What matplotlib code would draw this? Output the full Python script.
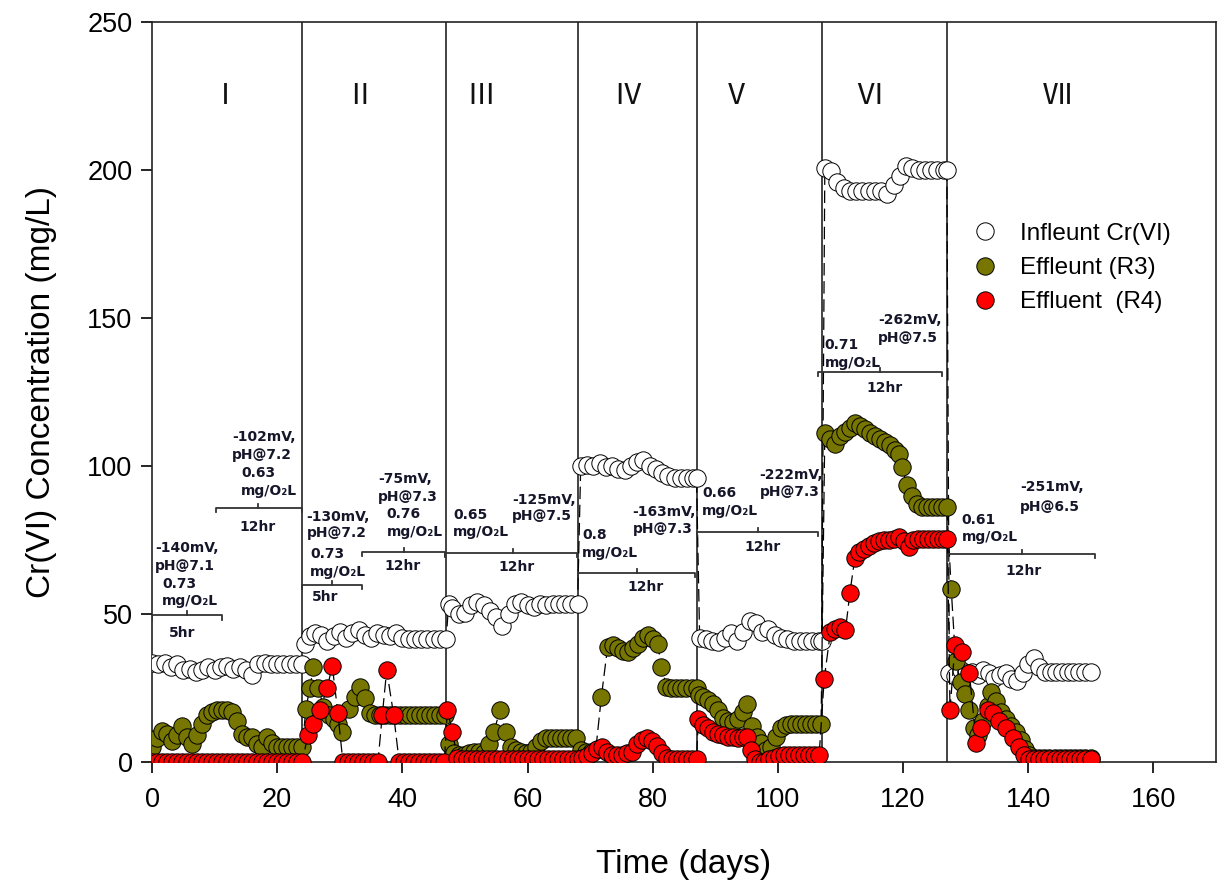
import matplotlib
matplotlib.use("Agg")
import matplotlib.pyplot as plt
from matplotlib.lines import Line2D

# ---------------- data ----------------
influent_days = [0, 1, 2, 3, 4, 5, 6, 7, 8, 9, 10, 11, 12, 13, 14, 15, 16, 17, 18, 19, 20, 21, 22, 23, 24,
                 24.5, 25.3, 26, 27, 28, 29, 30, 31, 32, 33, 34, 35, 36, 37, 38, 39, 40, 41, 42, 43, 44, 45, 46, 47,
                 47.4, 48, 49, 50, 51, 52, 53, 54, 55, 56, 57, 58, 59, 60, 61, 62, 63, 64, 65, 66, 67, 68,
                 68.5, 69.5, 70.5, 71.5, 72.5, 73.5, 74.5, 75.5, 76.5, 77.5, 78.5, 79.5, 80.5, 81.5, 82.5, 83.5,
                 84.5, 85.5, 86.5, 87,
                 87.5, 88.5, 89.5, 90.5, 91.5, 92.5, 93.5, 94.5, 95.5, 96.5, 97.5, 98.5, 99.5, 100.5, 101.5,
                 102.5, 103.5, 104.5, 105.5, 106.5, 107,
                 107.5, 108.5, 109.5, 110.5, 111.5, 112.5, 113.5, 114.5, 115.5, 116.5, 117.5, 118.5, 119.5,
                 120.5, 121.5, 122.5, 123.5, 124.5, 125.5, 126.5, 127,
                 127.4, 128.3, 129.2, 130.1, 131, 131.9, 132.8, 133.7, 134.6, 135.5, 136.4, 137.3, 138.2, 139.1,
                 140, 140.9, 141.8, 142.7, 143.6, 144.5, 145.4, 146.3, 147.2, 148.1, 149, 150]
influent_vals = [33.5, 33, 33.5, 32, 33, 31, 31.5, 30.5, 31, 32, 31, 32, 32.5, 31.5, 32, 31, 29.5, 33, 33.5,
                 33, 33, 33, 33, 33, 33,
                 40, 42.5, 43.5, 43, 41, 42.5, 44, 42, 43.5, 44.5, 43, 42, 43.5, 43, 42.5, 43.5, 42, 41.5, 41.5,
                 41.5, 41.5, 41.5, 41.5, 41.5,
                 53.5, 52, 50, 50.5, 53, 54, 53, 51, 49, 46, 50, 53.5, 54, 53, 52.5, 53.5, 53, 53.5, 53.5, 53.5,
                 53.5, 53.5,
                 100, 100.5, 100, 101, 99.5, 100, 99, 98.5, 100, 101.5, 102, 100, 99, 97.5, 96.5, 96, 96, 96,
                 96, 96,
                 42, 41.5, 41, 40.5, 42, 43.5, 41, 44, 47.5, 47, 44, 45, 43, 42, 41.5, 41, 41, 41, 41, 41, 41,
                 200.5, 199.5, 196, 194, 193, 193, 193, 193, 193, 193, 192, 195, 198, 201.5, 200.5, 200, 200,
                 200, 200, 200, 200,
                 30, 29, 31, 30, 30.5, 29.5, 31, 30, 28.5, 29.5, 30, 28, 27.5, 30, 33, 35, 32, 30.5, 30.5,
                 30.5, 30.5, 30.5, 30.5, 30.5, 30.5, 30.5]

r3_days = [0, 0.8, 1.6, 2.4, 3.2, 4, 4.8, 5.6, 6.4, 7.2, 8, 8.8, 9.6, 10.4, 11.2, 12, 12.8, 13.6, 14.4, 15.2,
           16, 16.8, 17.6, 18.4, 19.2, 20, 20.8, 21.6, 22.4, 23.2, 24,
           24.6, 25.2, 25.8, 26.6, 27.4, 28.2, 29, 29.7, 30.4, 31.4, 32.4, 33.2, 34, 34.8, 35.6, 36.4, 37.2,
           38, 38.8, 39.6, 40.4, 41.2, 42, 42.8, 43.6, 44.4, 45.2, 46, 46.8,
           47.4, 48.2, 49, 49.8, 50.6, 51.4, 52.2, 53, 53.8, 54.6, 55.6, 56.5, 57.3, 58.1, 58.9, 59.7, 60.5,
           61.3, 62.1, 62.9, 63.7, 64.5, 65.3, 66.1, 66.9, 67.7,
           68.5, 69.3, 70.1, 70.9, 71.8, 72.8, 73.6, 74.4, 75.2, 76, 76.8, 77.6, 78.4, 79.2, 80, 80.8, 81.4,
           82.2, 83, 83.8, 84.6, 85.4, 86.2, 87,
           87.4, 88.1, 88.9, 89.7, 90.5, 91.3, 92.1, 92.9, 93.7, 94.5, 95, 95.8, 96.6, 97.3, 98.1, 98.9, 99.7,
           100.5, 101.3, 102.1, 102.9, 103.7, 104.5, 105.3, 106.1, 106.9,
           107.5, 108.3, 109.1, 109.9, 110.7, 111.5, 112.3, 113.1, 113.9, 114.7, 115.5, 116.3, 117.1, 117.9,
           118.7, 119.3, 119.9, 120.6, 121.4, 122.2, 123, 123.8, 124.6, 125.4, 126.2, 127,
           127.7, 128.4, 129.2, 129.9, 130.6, 131.3, 132, 132.7, 133.5, 134.1, 134.9, 135.7, 136.5, 137.3,
           138.1, 138.8, 139.5, 140.2, 141, 141.8, 142.6, 143.4, 144.2, 145, 145.8, 146.6, 147.4, 148.2,
           149, 150]
r3_vals = [5, 8, 10.5, 9.5, 7, 9, 12, 8.5, 6, 9, 13, 16, 17, 17.5, 17.5, 17.5, 17, 14, 9.5, 8.5, 8.5, 6, 5,
           8.5, 6.5, 5, 5, 5, 5, 5, 5,
           18, 25, 32, 25, 18.5, 16, 14.5, 13, 10, 18, 22, 25.5, 21.5, 16.5, 16, 16, 16, 16, 16, 16, 16, 16,
           16, 16, 16, 16, 16, 16, 16,
           6, 3, 2.5, 2.5, 3, 3.5, 3.5, 3, 6, 10, 17.5, 10, 5, 4, 3.5, 3, 3.5, 5, 7, 8, 8, 8, 8, 8, 8, 8,
           4, 3.5, 3.5, 4, 22, 39, 39.5, 38.5, 37.5, 37, 38.5, 40, 42, 43, 41.5, 40, 32, 25.5, 25, 25, 25,
           25, 25, 25,
           22.5, 22, 21, 19.5, 17.5, 15, 14, 13.5, 14.5, 17, 19.5, 12, 8.5, 6.5, 4, 5, 8.5, 11.5, 12.5, 13,
           13, 13, 13, 13, 13, 13,
           111, 109, 107.5, 110, 111.5, 113, 114.5, 113.5, 112.5, 111, 110, 109, 108, 107, 105.5, 104, 99.5,
           93.5, 90, 87, 86, 86, 86, 86, 86, 86,
           58.5, 34, 27, 23, 17.5, 11.5, 9, 14, 19, 23.5, 20.5, 17, 14.5, 12, 10, 7.5, 4.5, 2.5, 1.5, 1.5,
           1.5, 1.5, 1.5, 1.5, 1.5, 1.5, 1.5, 1.5, 1.5, 1.5]

r4_days = [0, 0.8, 1.6, 2.4, 3.2, 4, 4.8, 5.6, 6.4, 7.2, 8, 8.8, 9.6, 10.4, 11.2, 12, 12.8, 13.6, 14.4, 15.2,
           16, 16.8, 17.6, 18.4, 19.2, 20, 20.8, 21.6, 22.4, 23.2, 24,
           24.9, 25.7, 26.8, 28, 28.8, 29.7, 30.5, 31.3, 32.1, 32.9, 33.7, 34.5, 35.3, 36.1, 36.8, 37.5,
           38.6, 39.5, 40.3, 41.1, 41.9, 42.7, 43.5, 44.3, 45.1, 45.9, 46.7,
           47.2, 48, 48.8, 49.6, 50.4, 51.2, 52, 52.8, 53.6, 54.4, 55.2, 56, 56.8, 57.6, 58.4, 59.2, 60, 60.8,
           61.6, 62.4, 63.2, 64, 64.8, 65.6, 66.4, 67.2, 68,
           68.7, 69.5, 70.3, 71.1, 71.9, 72.7, 73.5, 74.3, 75.1, 75.9, 76.7, 77.5, 78.3, 79.1, 79.9, 80.7,
           81.5, 82.3, 83.1, 83.9, 84.7, 85.5, 86.3, 87,
           87.3, 88.1, 88.9, 89.7, 90.5, 91.3, 92.1, 92.9, 93.7, 94.5, 95.1, 95.7, 96.4, 97.1, 97.8, 98.6,
           99.4, 100.2, 101, 101.8, 102.6, 103.4, 104.2, 105, 105.8, 106.6,
           107.4, 108.4, 109.2, 110, 110.8, 111.5, 112.3, 113, 113.8, 114.6, 115.4, 116.2, 117, 117.8,
           118.6, 119.4, 120.2, 120.9, 121.6, 122.4, 123.2, 124, 124.8, 125.6, 126.4, 127.1,
           127.5, 128.3, 129.4, 130.6, 131.7, 132.5, 133.5, 134.4, 135.4, 136.5, 137.5, 138.6, 139.4, 140.2,
           141, 141.8, 142.6, 143.4, 144.2, 145, 145.8, 146.6, 147.4, 148.2, 149, 150]
r4_vals = [0] * 31 + \
          [9, 13, 17.5, 25, 32.5, 16.5, 0, 0, 0, 0, 0, 0, 0, 0, 16, 31, 16, 0, 0, 0, 0, 0, 0, 0, 0, 0, 0] + \
          [17.5, 10, 1.5, 1, 1, 1, 1, 1, 1, 1, 1, 1, 1, 1, 1, 1, 1, 1, 1, 1, 1, 1, 1, 1, 1, 1, 1] + \
          [1.5, 2, 3, 4.5, 5, 3.5, 2.5, 2.5, 2.5, 3, 3.5, 6, 7.5, 8, 7, 5.5, 3, 1.5, 1, 1, 1, 1, 1, 1] + \
          [14.5, 12.5, 11.5, 10, 9.5, 9, 8.5, 8.5, 8, 8.5, 8.5, 4, 1, 0, 0, 1, 1.5, 2, 2.5, 2.5, 2.5, 2.5,
           2.5, 2.5, 2.5, 2.5] + \
          [28, 44, 45, 45.5, 44.5, 57, 69, 71, 72, 73, 74, 74.5, 75, 75, 75.5, 76, 74.5, 72.5, 75, 75.5,
           75.5, 75.5, 75.5, 75.5, 75.5, 75.5] + \
          [17.5, 39.5, 37, 30, 6.5, 11.5, 17.5, 16.5, 14, 11.5, 8, 5, 2.5, 1, 1, 1, 1, 1, 1, 1, 1, 1, 1,
           1, 1, 1]

phase_bounds = [24, 47, 68, 87, 107, 127]
phase_names = ["Ⅰ", "Ⅱ", "Ⅲ", "Ⅳ", "Ⅴ", "Ⅵ", "Ⅶ"]
phase_label_x = [11.7, 33.2, 52.6, 76.0, 93.4, 114.7, 144.7]

legend_labels = ["Infleunt Cr(VI)", "Effleunt (R3)", "Effluent  (R4)"]

# operating-condition notes: (x, y, text) per line, left aligned
note_lines = [
    (0.5, 72.3, "-140mV,"), (0.5, 66.2, "pH@7.1"), (1.6, 60.1, "0.73"), (1.6, 54.4, "mg/O₂L"),
    (12.8, 109.8, "-102mV,"), (12.8, 103.7, "pH@7.2"), (14.2, 97.6, "0.63"), (14.2, 91.6, "mg/O₂L"),
    (24.6, 82.8, "-130mV,"), (24.8, 77.4, "pH@7.2"), (25.3, 70.3, "0.73"), (25.3, 64.2, "mg/O₂L"),
    (36.1, 95.6, "-75mV,"), (36.1, 89.5, "pH@7.3"), (37.5, 83.8, "0.76"), (37.5, 77.7, "mg/O₂L"),
    (48.1, 83.4, "0.65"), (48.1, 77.7, "mg/O₂L"), (57.5, 88.5, "-125mV,"), (57.5, 83.1, "pH@7.5"),
    (68.7, 76.7, "0.8"), (68.7, 70.6, "mg/O₂L"), (76.8, 84.5, "-163mV,"), (76.8, 78.7, "pH@7.3"),
    (87.9, 90.9, "0.66"), (87.9, 84.8, "mg/O₂L"), (97.1, 97.0, "-222mV,"), (97.1, 91.2, "pH@7.3"),
    (107.5, 140.9, "0.71"), (107.5, 134.8, "mg/O₂L"), (116.0, 149.3, "-262mV,"), (116.0, 143.2, "pH@7.5"),
    (129.4, 81.8, "0.61"), (129.4, 76.0, "mg/O₂L"), (138.7, 92.9, "-251mV,"), (138.7, 86.1, "pH@6.5"),
]
# HRT brackets: (x_start, x_end, x_mid, y, label, label_x, label_y)
brackets = [
    (0.0, 11.2, 5.6, 49.5, "5hr", 4.8, 43.6),
    (10.2, 24.0, 16.9, 85.8, "12hr", 16.9, 79.4),
    (24.0, 33.6, 28.8, 59.8, "5hr", 27.6, 55.7),
    (33.6, 46.8, 40.3, 70.9, "12hr", 40.1, 66.2),
    (46.8, 67.9, 57.7, 70.6, "12hr", 58.3, 65.9),
    (68.1, 86.8, 77.5, 63.9, "12hr", 78.8, 59.1),
    (87.1, 106.4, 96.8, 77.7, "12hr", 97.6, 72.6),
    (106.4, 126.2, 116.3, 131.8, "12hr", 117.1, 126.4),
    (127.2, 150.7, 139.0, 70.3, "12hr", 139.2, 64.5),
]

# ---------------- figure ----------------
plt.rcParams["font.family"] = ["Liberation Sans", "DejaVu Sans"]
fig = plt.figure(figsize=(12.2, 8.93), dpi=100)
ax = fig.add_axes([0.1246, 0.1467, 0.8721, 0.8287])

ax.set_xlim(0, 170)
ax.set_ylim(0, 250)
ax.set_xticks(range(0, 161, 20))
ax.set_yticks(range(0, 251, 50))
ax.tick_params(direction="out", length=8, width=1.2, labelsize=19.5, pad=6)
ax.tick_params(axis="x", pad=10)
for s in ax.spines.values():
    s.set_linewidth(1.2)
    s.set_color("#222222")

ax.set_xlabel("Time (days)", fontsize=24, labelpad=26)
ax.set_ylabel("Cr(VI) Concentration (mg/L)", fontsize=24, labelpad=22)

for b in phase_bounds:
    ax.axvline(b, color="#222222", lw=1.2, zorder=2)
for name, xp in zip(phase_names, phase_label_x):
    ax.text(xp, 225, name, ha="center", va="center", fontsize=21,
            family=["Noto Sans CJK SC", "DejaVu Sans"], color="#111111")

ms = 12.5
mk = dict(marker="o", ms=ms, mec="black", mew=0.7, color="black", lw=0.9, ls=(0, (10, 4.5)))
ax.plot(influent_days, influent_vals, mfc="white", zorder=3, **mk)
ax.plot(r3_days, r3_vals, mfc="#767600", zorder=4, **mk)
ax.plot(r4_days, r4_vals, mfc="#ff0000", zorder=5, **mk)

note_color = "#16162a"
for xp, yp, t in note_lines:
    ax.text(xp, yp, t, ha="left", va="center", fontsize=10, fontweight="bold",
            family=["DejaVu Sans"], color=note_color, zorder=6)
for x0, x1, xm, y, lab, lx, ly in brackets:
    ax.plot([x0, x0, x1, x1], [y - 1.4, y, y, y - 1.4], color="#333333", lw=1.3, zorder=6)
    ax.plot([xm, xm], [y, y + 1.4], color="#333333", lw=1.3, zorder=6)
    ax.text(lx, ly, lab, ha="center", va="center", fontsize=10, fontweight="bold",
            family=["DejaVu Sans"], color=note_color, zorder=6)

handles = [
    Line2D([], [], marker="o", ls="none", ms=ms, mfc="white", mec="black", mew=0.7),
    Line2D([], [], marker="o", ls="none", ms=ms, mfc="#767600", mec="black", mew=0.7),
    Line2D([], [], marker="o", ls="none", ms=ms, mfc="#ff0000", mec="black", mew=0.7),
]
fig.legend(handles, legend_labels, loc="upper left", bbox_to_anchor=(0.7975, 0.7503),
           frameon=False, fontsize=17.5, borderpad=0, handlelength=1.0, handletextpad=0.94,
           labelspacing=0.5, borderaxespad=0)

fig.savefig("out.png", dpi=100)
